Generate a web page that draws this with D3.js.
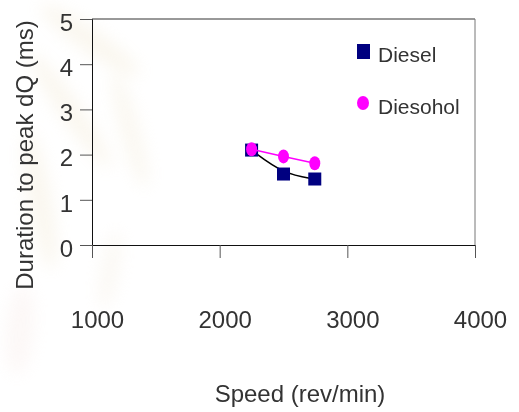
<!DOCTYPE html>
<html>
<head>
<meta charset="utf-8">
<script src="https://cdn.jsdelivr.net/npm/d3@7"></script>
<style>
  html, body { margin: 0; padding: 0; background: #fff; }
  svg { display: block; }
  text { font-family: "Liberation Sans", Arial, sans-serif; fill: #333; }
</style>
</head>
<body>
<svg id="chart" width="519" height="412"></svg>
<script>
// Engine speed (rev/min) for each test run
const speeds = [2250, 2500, 2745];
// Time from start of combustion to peak heat release rate (ms)
const dieselValues = [2.10, 1.57, 1.46];
const diesoholValues = [2.12, 1.96, 1.81];
const seriesNames = ["Diesel", "Diesohol"];
const xTicks = [1000, 2000, 3000, 4000];
const yTicks = [0, 1, 2, 3, 4, 5];

const svg = d3.select("#chart");
const FONT = "Liberation Sans, Arial, sans-serif";
const TEXT = "#333";

// Faint feather-like watermark on the left of the page
const defs = svg.append("defs");
defs.append("filter").attr("id", "soft")
  .attr("x", "-50%").attr("y", "-50%").attr("width", "200%").attr("height", "200%")
  .append("feGaussianBlur").attr("stdDeviation", 8);
const wm = svg.append("g").attr("filter", "url(#soft)").attr("opacity", 0.28);
[
  { cx: 90, cy: 40, rx: 60, ry: 12, a: 35, c: "#efe3c8" },
  { cx: 70, cy: 110, rx: 70, ry: 11, a: 55, c: "#efe3c8" },
  { cx: 130, cy: 130, rx: 60, ry: 10, a: 75, c: "#f0e6cf" },
  { cx: 40, cy: 200, rx: 70, ry: 12, a: 80, c: "#efe3c8" },
  { cx: 20, cy: 330, rx: 45, ry: 14, a: 95, c: "#f6e6e2" },
  { cx: 110, cy: 270, rx: 40, ry: 9, a: 100, c: "#f1e8d8" }
].forEach(e => {
  wm.append("ellipse").attr("cx", e.cx).attr("cy", e.cy).attr("rx", e.rx).attr("ry", e.ry)
    .attr("transform", `rotate(${e.a},${e.cx},${e.cy})`).attr("fill", e.c);
});

const plot = { left: 92, right: 475, top: 19, bottom: 245 };

const x = d3.scaleLinear().domain([1000, 4000]).range([plot.left, plot.right]);
const y = d3.scaleLinear().domain([0, 5]).range([plot.bottom, plot.top]);

// Plot frame: top and right edges
svg.append("line").attr("x1", plot.left).attr("x2", plot.right)
  .attr("y1", plot.top).attr("y2", plot.top)
  .attr("stroke", "#333").attr("stroke-width", 1);
svg.append("line").attr("x1", plot.right).attr("x2", plot.right)
  .attr("y1", plot.top).attr("y2", plot.bottom)
  .attr("stroke", "#777").attr("stroke-width", 1);

// Y axis
const yAxis = svg.append("g")
  .attr("transform", `translate(${plot.left},0)`)
  .call(d3.axisLeft(y).tickValues(yTicks).tickSize(12).tickPadding(7).tickFormat(d3.format("d")));
yAxis.select(".domain").attr("stroke", "#111");
yAxis.selectAll(".tick line").attr("stroke", "#555");
yAxis.selectAll(".tick text")
  .attr("font-size", 24).attr("font-family", FONT)
  .attr("fill", TEXT).attr("dy", "0.47em");

// X axis (labels sit well below the ticks)
const xAxis = svg.append("g")
  .attr("transform", `translate(0,${plot.bottom})`)
  .call(d3.axisBottom(x).tickValues(xTicks).tickSize(13).tickPadding(0).tickFormat(d3.format("d")));
xAxis.select(".domain").attr("stroke", "#111");
xAxis.selectAll(".tick line").attr("stroke", "#555");
xAxis.selectAll(".tick text")
  .attr("font-size", 24).attr("font-family", FONT)
  .attr("fill", TEXT).attr("dx", 5).attr("y", 83).attr("dy", "0em");

// Axis titles
svg.append("text")
  .attr("transform", `translate(33,155) rotate(-90)`)
  .attr("text-anchor", "middle").attr("font-size", 24)
  .text("Duration to peak dQ (ms)");
svg.append("text")
  .attr("x", 300).attr("y", 402)
  .attr("text-anchor", "middle").attr("font-size", 24)
  .text("Speed (rev/min)");

const diesel = speeds.map((s, i) => ({ s, v: dieselValues[i] }));
const diesohol = speeds.map((s, i) => ({ s, v: diesoholValues[i] }));

// Diesel: smooth black curve
const smooth = d3.line().x(d => x(d.s)).y(d => y(d.v)).curve(d3.curveBasis);
svg.append("path").datum(diesel).attr("d", smooth)
  .attr("fill", "none").attr("stroke", "#000").attr("stroke-width", 1.5);

// Diesel markers: navy squares
const sq = 13;
svg.append("g").selectAll("rect").data(diesel).join("rect")
  .attr("x", d => x(d.s) - sq / 2).attr("y", d => y(d.v) - sq / 2)
  .attr("width", sq).attr("height", sq).attr("fill", "#000080");

// Diesohol: straight magenta segments
const straight = d3.line().x(d => x(d.s)).y(d => y(d.v));
svg.append("path").datum(diesohol).attr("d", straight)
  .attr("fill", "none").attr("stroke", "#ff00ff").attr("stroke-width", 1.5);

// Diesohol markers: magenta ovals
svg.append("g").selectAll("ellipse").data(diesohol).join("ellipse")
  .attr("cx", d => x(d.s)).attr("cy", d => y(d.v))
  .attr("rx", 5.5).attr("ry", 7).attr("fill", "#ff00ff");

// Legend
const legend = svg.append("g");
legend.append("rect").attr("x", 357).attr("y", 44).attr("width", 13).attr("height", 15)
  .attr("fill", "#000080");
legend.append("text").attr("x", 378).attr("y", 62).attr("font-size", 21).text(seriesNames[0]);
legend.append("ellipse").attr("cx", 363).attr("cy", 103).attr("rx", 6).attr("ry", 7)
  .attr("fill", "#ff00ff");
legend.append("text").attr("x", 378).attr("y", 114).attr("font-size", 21).text(seriesNames[1]);
</script>
</body>
</html>
